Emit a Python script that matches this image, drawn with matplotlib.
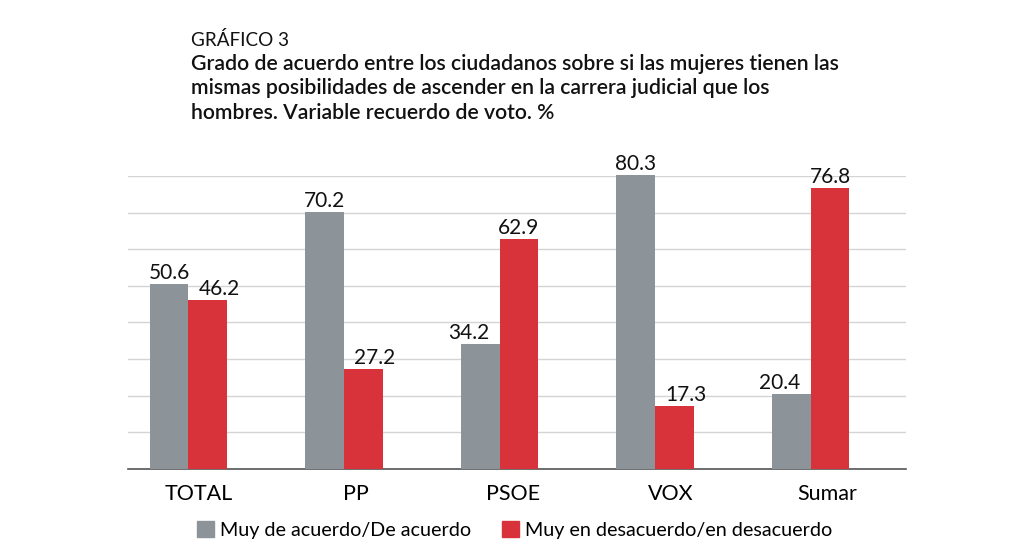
import numpy as np
import matplotlib.pyplot as plt
from matplotlib.patches import Patch

plt.rcParams['font.family'] = ['Lato', 'DejaVu Sans']

categorias = ['TOTAL', 'PP', 'PSOE', 'VOX', 'Sumar']
de_acuerdo = [50.6, 70.2, 34.2, 80.3, 20.4]
en_desacuerdo = [46.2, 27.2, 62.9, 17.3, 76.8]
series_labels = ['Muy de acuerdo/De acuerdo', 'Muy en desacuerdo/en desacuerdo']

titulo_sup = 'GRÁFICO 3'
titulo = ['Grado de acuerdo entre los ciudadanos sobre si las mujeres tienen las',
          'mismas posibilidades de ascender en la carrera judicial que los',
          'hombres. Variable recuerdo de voto. %']

gris = '#8d9499'
rojo = '#d8323b'

fig = plt.figure(figsize=(10.24, 5.5), dpi=100)
ax = fig.add_axes([0.125, 0.1473, 0.7598, 0.5327])

x = np.arange(len(categorias))
w = 0.25
b1 = ax.bar(x - w / 2, de_acuerdo, w, color=gris, clip_on=False, zorder=3)
b2 = ax.bar(x + w / 2, en_desacuerdo, w, color=rojo, clip_on=False, zorder=3)

# etiquetas: la barra mas baja de cada pareja se desplaza hacia fuera
for i in range(len(categorias)):
    g, r = de_acuerdo[i], en_desacuerdo[i]
    dx_g = -8 if g < r else 0
    dx_r = 8 if r < g else 0
    for bar, v, dx in ((b1[i], g, dx_g), (b2[i], r, dx_r)):
        ax.annotate(f'{v:.1f}', xy=(bar.get_x() + bar.get_width() / 2, v),
                    xytext=(dx, 3.6), textcoords='offset points',
                    ha='center', va='baseline', fontsize=15, color='#111111',
                    annotation_clip=False)

ax.set_xlim(-0.389, 4.614)
ax.set_ylim(0, 80)
ax.set_yticks(np.arange(0, 81, 10))
ax.yaxis.grid(True, color='#d4d4d4', linewidth=1)
ax.set_axisbelow(True)
ax.tick_params(axis='y', left=False, labelleft=False)
ax.tick_params(axis='x', length=0, pad=10.5, labelsize=15.5)
ax.set_xticks(x * 1.0115 + 0.064)
ax.set_xticklabels(categorias)
for s in ['top', 'right', 'left']:
    ax.spines[s].set_visible(False)
ax.spines['bottom'].set_color('#555555')
ax.spines['bottom'].set_linewidth(1.2)

fig.text(0.1865, 1 - 46 / 550, titulo_sup, fontsize=13.6, color='#111111',
         va='baseline')
for k, linea in enumerate(titulo):
    fig.text(0.1865, 1 - (70 + 24.5 * k) / 550, linea, fontsize=15.3,
             fontweight='semibold', color='#111111', va='baseline')

handles = [Patch(color=gris), Patch(color=rojo)]
fig.legend(handles, series_labels, loc='center', bbox_to_anchor=(0.5024, 0.036),
           ncol=2, frameon=False, fontsize=14.2, handlelength=0.86,
           handleheight=0.81, handletextpad=0.3, columnspacing=1.55,
           borderaxespad=0, borderpad=0)

fig.savefig('out.png', dpi=100)
